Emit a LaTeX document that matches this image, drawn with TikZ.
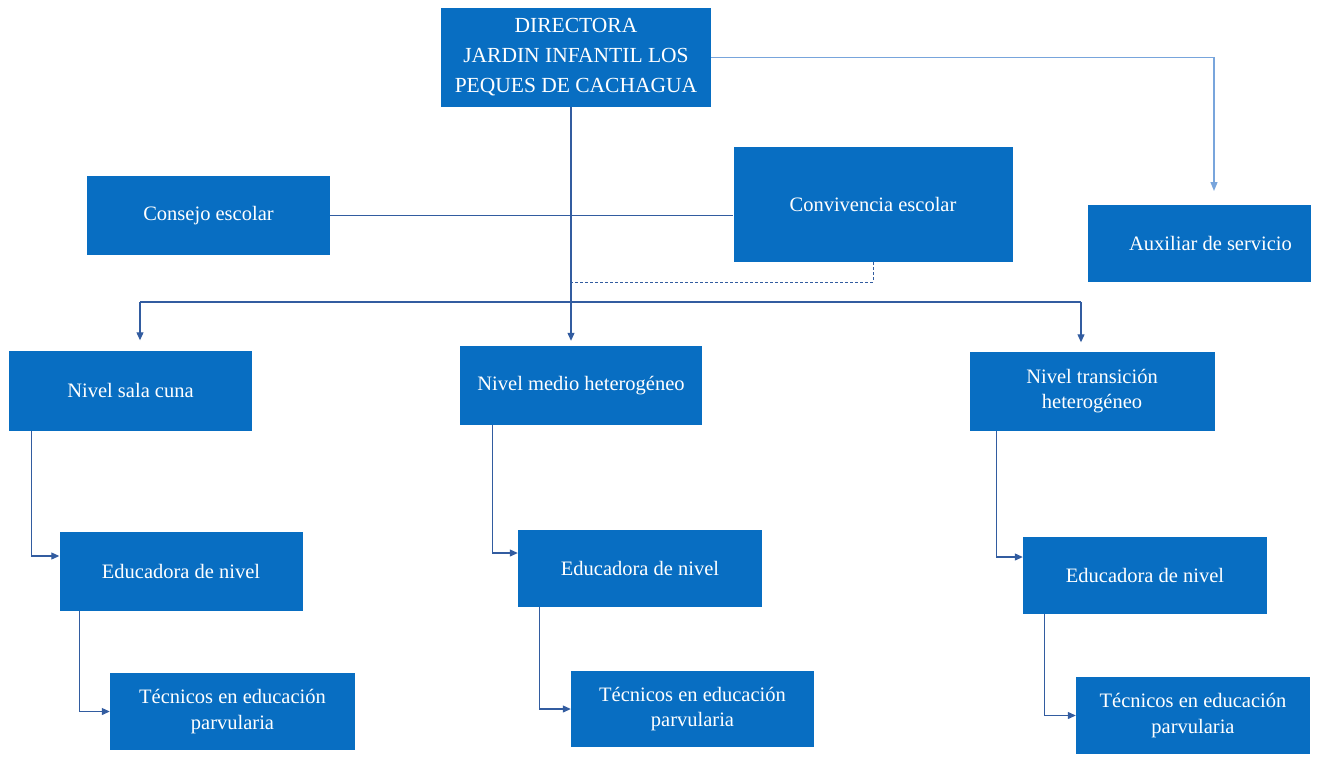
\documentclass[tikz,border=0pt]{standalone}
\usepackage{fontspec}
\setmainfont{Liberation Serif}
\usetikzlibrary{arrows.meta}
\definecolor{boxblue}{RGB}{8,110,194}
\definecolor{linblue}{RGB}{50,92,160}
\definecolor{lightblue}{RGB}{120,165,220}
\tikzset{
  orgbox/.style={fill=boxblue, draw=none, text=white, inner sep=0pt, align=center,
     font=\fontsize{20.5}{25.5}\selectfont},
  conn/.style={draw=linblue, line width=1.1pt},
  arr/.style={conn, -{Triangle[length=8pt,width=7pt]}},
  lightarr/.style={draw=lightblue, line width=1.3pt, -{Triangle[length=9pt,width=7pt]}},
  dashconn/.style={draw=linblue, line width=0.9pt, dash pattern=on 3pt off 2pt}
}
\begin{document}
\begin{tikzpicture}[x=1pt,y=-1pt]
\useasboundingbox (0,0) rectangle (1317,756);

\node[orgbox, minimum width=270pt, minimum height=99pt, font=\fontsize{21.5}{30}\selectfont] (dir) at (576,57.5)
  {DIRECTORA\\JARDIN INFANTIL LOS\\PEQUES DE CACHAGUA};
\node[orgbox, minimum width=223pt, minimum height=77pt] (aux) at (1199.5,243.5) {\hspace*{22pt}Auxiliar de servicio};
\node[orgbox, minimum width=243pt, minimum height=79pt] (cons) at (208.5,215.5) {Consejo escolar};
\node[orgbox, minimum width=279pt, minimum height=115pt] (conv) at (873,204.5) {Convivencia escolar};

\node[orgbox, minimum width=243pt, minimum height=80pt] (sala) at (130.5,390.5) {Nivel sala cuna};
\node[orgbox, minimum width=242pt, minimum height=79pt] (medio) at (581,385.5) {Nivel medio heterogéneo};
\node[orgbox, minimum width=245pt, minimum height=79pt] (trans) at (1092,391) {Nivel transición\\heterogéneo};

\node[orgbox, minimum width=243pt, minimum height=79pt] (edu1) at (181,571) {Educadora de nivel};
\node[orgbox, minimum width=245pt, minimum height=77pt] (tec1) at (232.5,711.5) {Técnicos en educación\\parvularia};
\node[orgbox, minimum width=244pt, minimum height=77pt] (edu2) at (640,568.5) {Educadora de nivel};
\node[orgbox, minimum width=243pt, minimum height=76pt] (tec2) at (692.5,709) {Técnicos en educación\\parvularia};
\node[orgbox, minimum width=244pt, minimum height=77pt] (edu3) at (1145,575.5) {Educadora de nivel};
\node[orgbox, minimum width=234pt, minimum height=77pt] (tec3) at (1193,715.5) {Técnicos en educación\\parvularia};

\coordinate (trunk) at (571,302);
\coordinate (busL) at (140,302);
\coordinate (busR) at (1081,302);
\coordinate (dashy) at (571,282);
\coordinate (auxin) at (1214,205);

% director to auxiliar
\draw[lightarr, shorten >=14pt] (dir.east) -| (auxin);
% director trunk
\draw[conn] (trunk |- dir.south) -- (trunk);
\draw[arr, shorten >=5pt] (trunk) -- (trunk |- medio.north);
% bus
\draw[conn] (busL) -- (busR);
\draw[arr, shorten >=10pt] (busL) -- (busL |- sala.north);
\draw[arr, shorten >=9pt] (busR) -- (busR |- trans.north);
% consejo - convivencia
\draw[conn] (cons.east) -- (cons.east -| conv.west);
% dashed from convivencia
\draw[dashconn] (conv.south) -- (conv.south |- dashy) -- (dashy);

% left column
\draw[arr] ([xshift=23pt]sala.south west) |- ([yshift=15pt]edu1.west);
\draw[arr] ([xshift=20.5pt]edu1.south west) |- (tec1.west);
% middle column
\draw[arr] ([xshift=33pt]medio.south west) |- ([yshift=15.5pt]edu2.west);
\draw[arr] ([xshift=22pt]edu2.south west) |- (tec2.west);
% right column
\draw[arr] ([xshift=27.5pt]trans.south west) |- ([yshift=18.5pt]edu3.west);
\draw[arr] ([xshift=22pt]edu3.south west) |- (tec3.west);
\end{tikzpicture}
\end{document}
